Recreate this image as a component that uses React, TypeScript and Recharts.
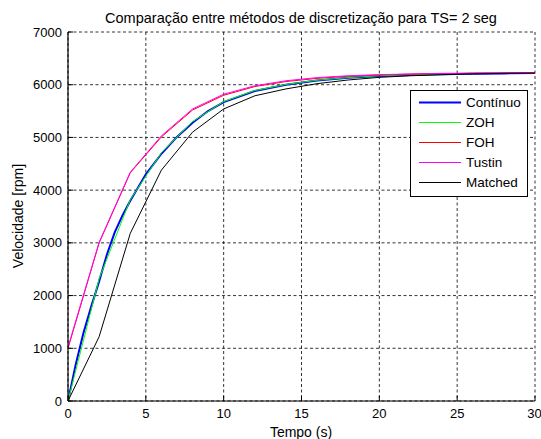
import React from 'react';
import { LineChart, Line, XAxis, YAxis, CartesianGrid, Legend } from 'recharts';

const FONT = '"Liberation Sans", Arial, Helvetica, sans-serif';

const titleText = 'Comparação entre métodos de discretização para TS= 2 seg';
const xLabel = 'Tempo (s)';
const yLabel = 'Velocidade [rpm]';

const xTicks = [0, 5, 10, 15, 20, 25, 30];
const yTicks = [0, 1000, 2000, 3000, 4000, 5000, 6000, 7000];

// continuous response (finer sampling)
const contT = [0, 0.5, 1, 1.5, 2, 2.5, 3, 3.5, 4, 5, 6, 7, 8, 9, 10, 12, 14, 16, 18, 20, 22, 24, 26, 28, 30];
const contV = [0, 700, 1300, 1800, 2270, 2780, 3200, 3520, 3800, 4300, 4690, 5010, 5280, 5500, 5670, 5880, 6000, 6080, 6130, 6165, 6185, 6200, 6210, 6215, 6220];

// discrete responses, TS = 2 s
const sampleT = [0, 2, 4, 6, 8, 10, 12, 14, 16, 18, 20, 22, 24, 26, 28, 30];
const zohV = [0, 2320, 3820, 4710, 5300, 5680, 5890, 6005, 6085, 6135, 6170, 6190, 6200, 6210, 6215, 6220];
const fohV = [1000, 3000, 4330, 5010, 5520, 5800, 5965, 6060, 6120, 6160, 6185, 6200, 6210, 6215, 6220, 6225];
const tustinV = [1020, 3010, 4340, 5030, 5540, 5820, 5980, 6075, 6135, 6170, 6190, 6205, 6215, 6220, 6225, 6228];
const matchedV = [0, 1220, 3180, 4380, 5100, 5540, 5790, 5920, 6020, 6090, 6140, 6170, 6190, 6205, 6215, 6220];

const seriesNames = ['Contínuo', 'ZOH', 'FOH', 'Tustin', 'Matched'];
const seriesColors = ['#0000ff', '#00ff00', '#ff0000', '#ff00ff', '#000000'];
const seriesWidths = [2, 1, 1, 1, 1];

const toPts = (ts: number[], vs: number[]) => ts.map((t, i) => ({ t, v: vs[i] }));

const seriesData = [
  toPts(contT, contV),
  toPts(sampleT, zohV),
  toPts(sampleT, fohV),
  toPts(sampleT, tustinV),
  toPts(sampleT, matchedV),
];

const LegendBox = () => (
  <svg width={118} height={107} style={{ display: 'block' }}>
    <rect x={0.5} y={0.5} width={117} height={106} fill="#fff" stroke="#000" strokeWidth={1} />
    {seriesNames.map((n, i) => (
      <g key={n}>
        <line x1={9} x2={51} y1={12.5 + i * 20} y2={12.5 + i * 20} stroke={seriesColors[i]} strokeWidth={seriesWidths[i]} />
        <text x={56} y={12.5 + i * 20} dy="0.36em" fontFamily={FONT} fontSize={13.5} fill="#000">
          {n}
        </text>
      </g>
    ))}
  </svg>
);

const tickStyle = { fontFamily: FONT, fontSize: 13, fill: '#000' };
const emptyTick = () => <g />;

export default function App() {
  return (
    <div style={{ position: 'absolute', left: 0, top: 0, width: 541, height: 439, background: '#fff' }}>
      <LineChart width={541} height={439} margin={{ top: 32, right: 6, bottom: 0, left: 0 }}>
        <CartesianGrid stroke="#000" strokeDasharray="3 2.5" strokeWidth={0.8} />
        <XAxis
          type="number"
          dataKey="t"
          domain={[0, 30]}
          ticks={xTicks}
          allowDataOverflow
          height={38}
          tick={tickStyle}
          tickSize={-5}
          tickMargin={13}
          stroke="#000"
          axisLine={{ stroke: '#000', strokeWidth: 1.2 }}
          tickLine={{ stroke: '#000' }}
        />
        <XAxis
          xAxisId="top"
          orientation="top"
          type="number"
          domain={[0, 30]}
          ticks={xTicks}
          height={0}
          tick={emptyTick}
          tickSize={-5}
          axisLine={{ stroke: '#000', strokeWidth: 1.2 }}
          tickLine={{ stroke: '#000' }}
        />
        <YAxis
          type="number"
          domain={[0, 7000]}
          ticks={yTicks}
          allowDataOverflow
          width={68}
          tick={tickStyle}
          tickSize={-5}
          tickMargin={11}
          axisLine={{ stroke: '#000', strokeWidth: 1.2 }}
          tickLine={{ stroke: '#000' }}
        />
        <YAxis
          yAxisId="right"
          orientation="right"
          type="number"
          domain={[0, 7000]}
          ticks={yTicks}
          width={0}
          tick={emptyTick}
          tickSize={-5}
          axisLine={{ stroke: '#000', strokeWidth: 1.2 }}
          tickLine={{ stroke: '#000' }}
        />
        {seriesData.map((d, i) => (
          <Line
            key={seriesNames[i]}
            data={d}
            dataKey="v"
            name={seriesNames[i]}
            type="linear"
            stroke={seriesColors[i]}
            strokeWidth={seriesWidths[i]}
            dot={false}
            activeDot={false}
            isAnimationActive={false}
          />
        ))}
        <Legend
          layout="vertical"
          align="center"
          verticalAlign="middle"
          content={() => <LegendBox />}
          wrapperStyle={{ position: 'absolute', left: 410, top: 90, width: 118, height: 107, margin: 0, padding: 0 }}
        />
        <text x={301} y={23} textAnchor="middle" fontFamily={FONT} fontSize={14.5} fill="#000">
          {titleText}
        </text>
        <text x={301} y={437} textAnchor="middle" fontFamily={FONT} fontSize={14} fill="#000">
          {xLabel}
        </text>
        <text
          x={23}
          y={216}
          textAnchor="middle"
          fontFamily={FONT}
          fontSize={14}
          fill="#000"
          transform="rotate(-90 23 216)"
        >
          {yLabel}
        </text>
      </LineChart>
    </div>
  );
}
